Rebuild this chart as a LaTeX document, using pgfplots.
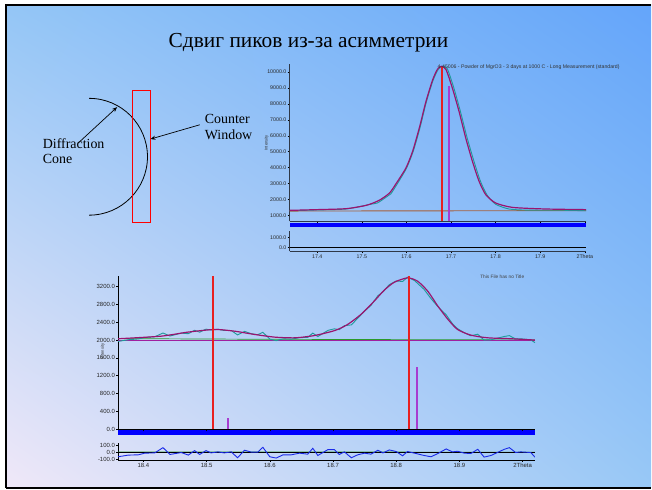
\documentclass[border=0pt]{standalone}
\usepackage{pgfplots}
\pgfplotsset{compat=1.18}
\usepackage{fontspec}
\setmainfont{Liberation Serif}
\newfontfamily\arial{Liberation Sans}
\usetikzlibrary{arrows.meta,shadings}

\definecolor{bgUL}{RGB}{148,198,246}
\definecolor{bgUR}{RGB}{100,165,250}
\definecolor{bgLL}{RGB}{240,232,248}
\definecolor{bgLR}{RGB}{152,200,246}
\definecolor{fitmag}{HTML}{9A1470}
\definecolor{obsteal}{HTML}{1E9A9A}
\definecolor{bgbrown}{HTML}{A8603A}
\definecolor{stickred}{HTML}{E82020}
\definecolor{stickpur}{HTML}{A83CD0}
\definecolor{axgray}{HTML}{2E3848}
\definecolor{linemag}{HTML}{A020A0}
\definecolor{bggreen}{HTML}{2A9A2A}
\definecolor{diffblue}{HTML}{1A2AE8}

\pgfplotsset{
  slide/.style={
    scale only axis, axis lines=left,
    axis line style={-, line width=0.6bp},
    tick style={black, line width=0.5bp},
    tick align=outside, major tick length=2bp,
    scaled ticks=false,
    /pgf/number format/assume math mode=true,
    ticklabel style={font=\arial\fontsize{5.3}{6}\selectfont, text=black!85, inner sep=1pt},
  },
}

\begin{document}
\begin{tikzpicture}[x=1bp,y=1bp]
% background
\fill[white] (0,0) rectangle (652,490);
\shade[upper left=bgUL, upper right=bgUR, lower left=bgLL, lower right=bgLR] (6,1.5) rectangle (652,485);
\draw[black, line width=2bp] (6,1.5) -- (6,485) -- (652,485);
\draw[black, line width=2bp] (6,1.5) -- (652,1.5);

% title
\node[anchor=base, inner sep=0] at (309,442.7) {\fontsize{21.5}{24}\selectfont Сдвиг пиков из-за асимметрии};

% diagram
\draw[black, line width=0.8bp] (89.2,391.5) arc (90:-90:58.5);
\draw[red, line width=0.8bp] (132.5,267.5) rectangle (150.5,399.5);
\draw[black, line width=0.7bp, -{Stealth[length=5bp,width=4bp]}] (78.3,346.7) -- (117.3,382.7);
\draw[black, line width=0.7bp, -{Stealth[length=5bp,width=4bp]}] (200,365) -- (150.7,350.7);
\node[anchor=base west, inner sep=0] at (42.7,341.7) {\fontsize{14}{16}\selectfont Diffraction};
\node[anchor=base west, inner sep=0] at (42.7,326) {\fontsize{14}{16}\selectfont Cone};
\node[anchor=base west, inner sep=0] at (205,366) {\fontsize{14}{16}\selectfont Counter};
\node[anchor=base west, inner sep=0] at (205,350.7) {\fontsize{14}{16}\selectfont Window};

% ===== top chart =====
\fill[blue] (290,263) rectangle (587,267);
\begin{axis}[slide, at={(290bp,268.5bp)}, anchor=south west,
  width=297bp, height=157.5bp,
  xmin=17.338, xmax=18.003, ymin=636, ymax=10521,
  axis line style={axgray},
  xtick={17.4,17.5,17.6,17.7,17.8,17.9,18.0}, xticklabels={},
  ytick={1000,2000,3000,4000,5000,6000,7000,8000,9000,10000},
  yticklabels={1000.0,2000.0,3000.0,4000.0,5000.0,6000.0,7000.0,8000.0,9000.0,10000.0},
  clip=false]
\addplot[bgbrown, line width=0.9bp] coordinates {(17.338,1270) (18.003,1300)};
\addplot[obsteal, line width=0.9bp, smooth, tension=0.4] coordinates {
(17.338,1290) (17.40,1340) (17.465,1400) (17.52,1700) (17.535,1780) (17.555,2150)
(17.565,2350) (17.58,3000) (17.60,3950) (17.615,5000) (17.63,6450) (17.645,8150)
(17.66,9500) (17.672,10200) (17.682,10380) (17.692,10200) (17.706,9050) (17.721,7550)
(17.736,5900) (17.751,4450) (17.766,3150) (17.781,2280) (17.80,1700) (17.83,1400)
(17.87,1330) (17.95,1320) (18.003,1290)};
\addplot[fitmag, line width=1.2bp, smooth, tension=0.4] coordinates {
(17.338,1314) (17.40,1360) (17.465,1421) (17.51,1630) (17.539,1945) (17.562,2400)
(17.577,3000) (17.599,3980) (17.614,5030) (17.629,6500) (17.644,8170) (17.659,9530)
(17.670,10200) (17.679,10370) (17.689,10160) (17.703,9010) (17.718,7540) (17.733,5870)
(17.748,4400) (17.763,3140) (17.778,2300) (17.800,1780) (17.838,1500) (17.912,1400)
(18.003,1360)};
\addplot[stickpur, line width=1.5bp] coordinates {(17.6951,636) (17.6951,9100)};
\addplot[stickred, line width=1.5bp] coordinates {(17.6795,636) (17.6795,10350)};
\end{axis}
\begin{axis}[slide, at={(290bp,238.3bp)}, anchor=south west,
  width=297bp, height=20bp,
  xmin=17.338, xmax=18.003, ymin=-400, ymax=1600,
  axis line style={axgray},
  xtick={17.4,17.5,17.6,17.7,17.8,17.9,18.0},
  xticklabels={17.4,17.5,17.6,17.7,17.8,17.9,2Theta},
  ytick={0,1000}, yticklabels={0.0,1000.0}]
\addplot[black, line width=1bp] coordinates {(17.338,0) (18.003,0)};
\end{axis}
\node[rotate=90, inner sep=0, font=\arial\fontsize{4.2}{5}\selectfont, text=black!80] at (267,347) {Intensity};
\node[anchor=west, inner sep=0, font=\arial\fontsize{5.2}{6}\selectfont, text=black!80] at (438,423) {4-45006 - Powder of MgrO3 - 3 days at 1000 C - Long Measurement (standard)};

% ===== bottom chart =====
\fill[blue] (118.3,54) rectangle (535.7,59);
\begin{axis}[slide, at={(118.3bp,60bp)}, anchor=south west,
  width=417.4bp, height=154bp,
  xmin=18.36, xmax=19.0194, ymin=0, ymax=3441,
  ticklabel style={font=\arial\fontsize{6}{7}\selectfont},
  xtick={18.4,18.5,18.6,18.7,18.8,18.9,19.0}, xticklabels={},
  ytick={0,400,800,1200,1600,2000,2400,2800,3200},
  yticklabels={0.0,400.0,800.0,1200.0,1600.0,2000.0,2400.0,2800.0,3200.0},
  clip=false]
\addplot[bggreen, line width=0.7bp] coordinates {(18.36,2030) (18.60,2015) (19.0194,2000)};
\addplot[linemag, line width=1.3bp] coordinates {(18.36,1990) (19.0194,1990)};
\addplot[obsteal, line width=0.9bp] coordinates {
(18.360,1968) (18.376,2005) (18.392,2023) (18.402,2054) (18.418,2072) (18.431,2156)
(18.442,2088) (18.460,2153) (18.471,2140) (18.481,2217) (18.489,2174) (18.499,2242)
(18.507,2222) (18.518,2239) (18.528,2211) (18.539,2212) (18.549,2112) (18.560,2192)
(18.571,2139) (18.581,2118) (18.589,2172) (18.600,2019) (18.610,1985) (18.621,2025)
(18.634,2019) (18.647,2051) (18.660,2058) (18.668,2154) (18.676,2076) (18.692,2214)
(18.702,2249) (18.710,2232) (18.718,2321) (18.729,2337) (18.739,2484) (18.750,2646)
(18.760,2773) (18.771,2991) (18.779,3077) (18.789,3238) (18.800,3320) (18.810,3308)
(18.818,3404) (18.829,3329) (18.844,3133) (18.855,2926) (18.865,2758) (18.879,2564)
(18.889,2363) (18.897,2253) (18.908,2159) (18.918,2094) (18.929,2129) (18.939,1997)
(18.950,2004) (18.960,2039) (18.971,2078) (18.979,2097) (18.989,2022) (18.997,2027)
(19.013,2003) (19.0194,1940)};
\addplot[fitmag, line width=1.2bp, smooth, tension=0.4] coordinates {
(18.360,2027) (18.428,2085) (18.470,2175) (18.513,2235) (18.544,2197) (18.576,2123)
(18.608,2063) (18.640,2048) (18.671,2100) (18.703,2212) (18.723,2346) (18.744,2570)
(18.765,2867) (18.781,3113) (18.797,3292) (18.818,3390) (18.834,3314) (18.850,3090)
(18.866,2755) (18.882,2458) (18.897,2235) (18.918,2108) (18.945,2048) (18.982,2027)
(19.0194,1998)};
\addplot[stickpur, line width=1.5bp] coordinates {(18.5341,0) (18.5341,260)};
\addplot[stickpur, line width=1.5bp] coordinates {(18.8327,0) (18.8327,1400)};
\addplot[stickred, line width=1.5bp] coordinates {(18.8200,0) (18.8200,3441)};
\addplot[stickred, line width=1.5bp] coordinates {(18.5104,0) (18.5104,3441)};
\end{axis}
\begin{axis}[slide, at={(118.3bp,29.3bp)}, anchor=south west,
  width=417.4bp, height=17.4bp,
  xmin=18.36, xmax=19.0194, ymin=-104, ymax=138,
  ticklabel style={font=\arial\fontsize{6}{7}\selectfont},
  xtick={18.4,18.5,18.6,18.7,18.8,18.9,19.0},
  xticklabels={18.4,18.5,18.6,18.7,18.8,18.9,2Theta},
  ytick={-100,0,100}, yticklabels={-100.0,0.0,100.0}]
\addplot[bggreen, line width=0.7bp] coordinates {(18.36,8) (19.0194,5)};
\addplot[black, line width=0.9bp] coordinates {(18.36,0) (19.0194,0)};
\addplot[diffblue, line width=0.9bp] coordinates {
(18.360,-59) (18.376,-36) (18.392,-32) (18.402,-9) (18.418,-5) (18.431,68)
(18.442,-27) (18.460,0) (18.471,-36) (18.481,27) (18.489,-27) (18.499,27)
(18.507,-5) (18.518,9) (18.528,-5) (18.539,9) (18.549,-73) (18.560,32)
(18.571,5) (18.581,5) (18.589,73) (18.600,-59) (18.610,-77) (18.621,-32)
(18.634,-32) (18.647,-9) (18.660,-23) (18.668,59) (18.676,-41) (18.692,41)
(18.702,41) (18.710,-27) (18.718,9) (18.729,-73) (18.739,-32) (18.750,-9)
(18.760,-23) (18.771,32) (18.779,-5) (18.789,36) (18.800,14) (18.810,-45)
(18.818,14) (18.829,-9) (18.844,-41) (18.855,-59) (18.865,-18) (18.879,50)
(18.889,9) (18.897,18) (18.908,-9) (18.918,-14) (18.929,45) (18.939,-64)
(18.950,-41) (18.960,0) (18.971,45) (18.979,68) (18.989,0) (18.997,9)
(19.013,0) (19.0194,-64)};
\end{axis}
\node[rotate=90, inner sep=0, font=\arial\fontsize{4.2}{5}\selectfont, text=black!80] at (103,138) {Intensity};
\node[anchor=center, inner sep=0, font=\arial\fontsize{4.8}{5}\selectfont, text=black!75] at (503,213) {This File has no Title};
\end{tikzpicture}
\end{document}
